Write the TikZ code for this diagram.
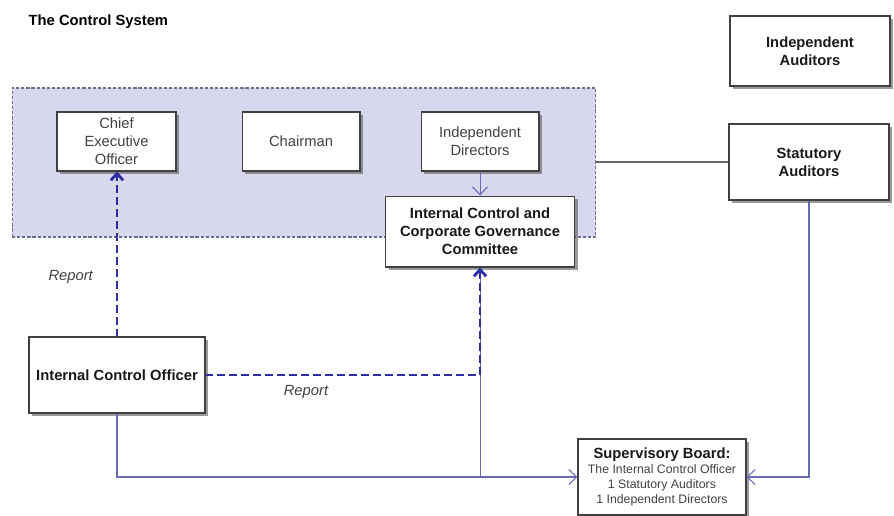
\documentclass[tikz,border=0pt]{standalone}
\usepackage{fontspec}
\setmainfont{Liberation Sans}
\usetikzlibrary{arrows.meta, positioning, shadows}

\definecolor{boardlilac}{RGB}{215,215,237}
\definecolor{boardedge}{RGB}{110,110,135}
\definecolor{reportblue}{RGB}{45,45,165}
\definecolor{linkblue}{RGB}{105,105,185}
\definecolor{textgrey}{RGB}{65,65,65}

\begin{document}
\begin{tikzpicture}[
    x=0.02cm, y=-0.02cm,
    font=\fontsize{8.4}{10.2}\selectfont,
    box/.style={
        rectangle, draw=black!75, fill=white, line width=0.6pt, align=center, inner sep=2pt,
        drop shadow={shadow xshift=1.7pt, shadow yshift=-1.7pt, opacity=0.6, fill=black!65}
    },
    plainbox/.style={box, text=textgrey},
    boldbox/.style={box, text=black!90, font=\fontsize{8.4}{10.2}\selectfont\bfseries},
    board/.style={
        rectangle, draw=boardedge, fill=boardlilac, line width=0.6pt,
        dash pattern=on 1.8pt off 1.1pt
    },
    report/.style={
        -{Straight Barb[length=3.8pt, width=7pt]}, draw=reportblue, line width=1.6pt,
        dash pattern=on 4.5pt off 2.3pt
    },
    link/.style={-{Straight Barb[length=4.5pt, width=8.5pt]}, draw=linkblue, line width=0.6pt},
    plainlink/.style={draw=linkblue, line width=0.6pt},
    reportlabel/.style={font=\fontsize{8.4}{10}\selectfont\itshape, text=textgrey, inner sep=1pt}
]
\useasboundingbox (0,0) rectangle (894,516);

% Title
\node[anchor=west, font=\fontsize{8.4}{10}\selectfont\bfseries] (title) at (22.5,22) {The Control System};

% Board of directors (shaded area)
\node[board, minimum width=11.68cm, minimum height=2.98cm] (board) at (304,162.5) {};

% Top row inside the board
\node[plainbox, minimum width=2.38cm, minimum height=1.18cm] (ceo) at (116.5,141.5) {Chief\\Executive\\Officer};
\node[plainbox, minimum width=2.36cm, minimum height=1.18cm, right=1.3cm of ceo] (chairman) {Chairman};
\node[plainbox, minimum width=2.36cm, minimum height=1.18cm, right=1.2cm of chairman] (inddir) {Independent\\Directors};
\node[boldbox, minimum width=3.78cm, minimum height=1.42cm, below=0.48cm of inddir] (committee)
    {Internal Control and\\Corporate Governance\\Committee};

% Auditors on the right
\node[boldbox, minimum width=3.2cm, minimum height=1.4cm] (indaud) at (810,51) {Independent\\Auditors};
\node[boldbox, minimum width=3.2cm, minimum height=1.52cm] (statutory) at (809,162) {Statutory\\Auditors};

% Bottom row
\node[boldbox, minimum width=3.52cm, minimum height=1.52cm] (ico) at (117,375) {Internal Control Officer};
\node[box, minimum width=3.36cm, minimum height=1.52cm, font=\fontsize{7}{8.6}\selectfont, text=textgrey] (superv) at (662,477)
    {{\fontsize{8.4}{10}\selectfont\bfseries\color{black!90}Supervisory Board:}\\
     The Internal Control Officer\\1 Statutory Auditors\\1 Independent Directors};

% Plain links
\draw[plainlink, draw=black!60] (statutory.west -| board.east) -- (statutory.west);
\draw[link] (inddir) -- (committee);
\draw[plainlink] (committee.south) -- (committee.south |- superv.west);
\draw[link] (ico.south) |- (superv.west);
\draw[link] (statutory.south) |- (superv.east);

% Reporting lines
\draw[report] (ico.north) -- node[pos=0.36, left=0.42cm, reportlabel]{Report} (ico.north |- ceo.south);
\draw[report] (ico.east) -| node[pos=0.183, below=0.15cm, reportlabel]{Report} (committee.south);

\end{tikzpicture}
\end{document}
